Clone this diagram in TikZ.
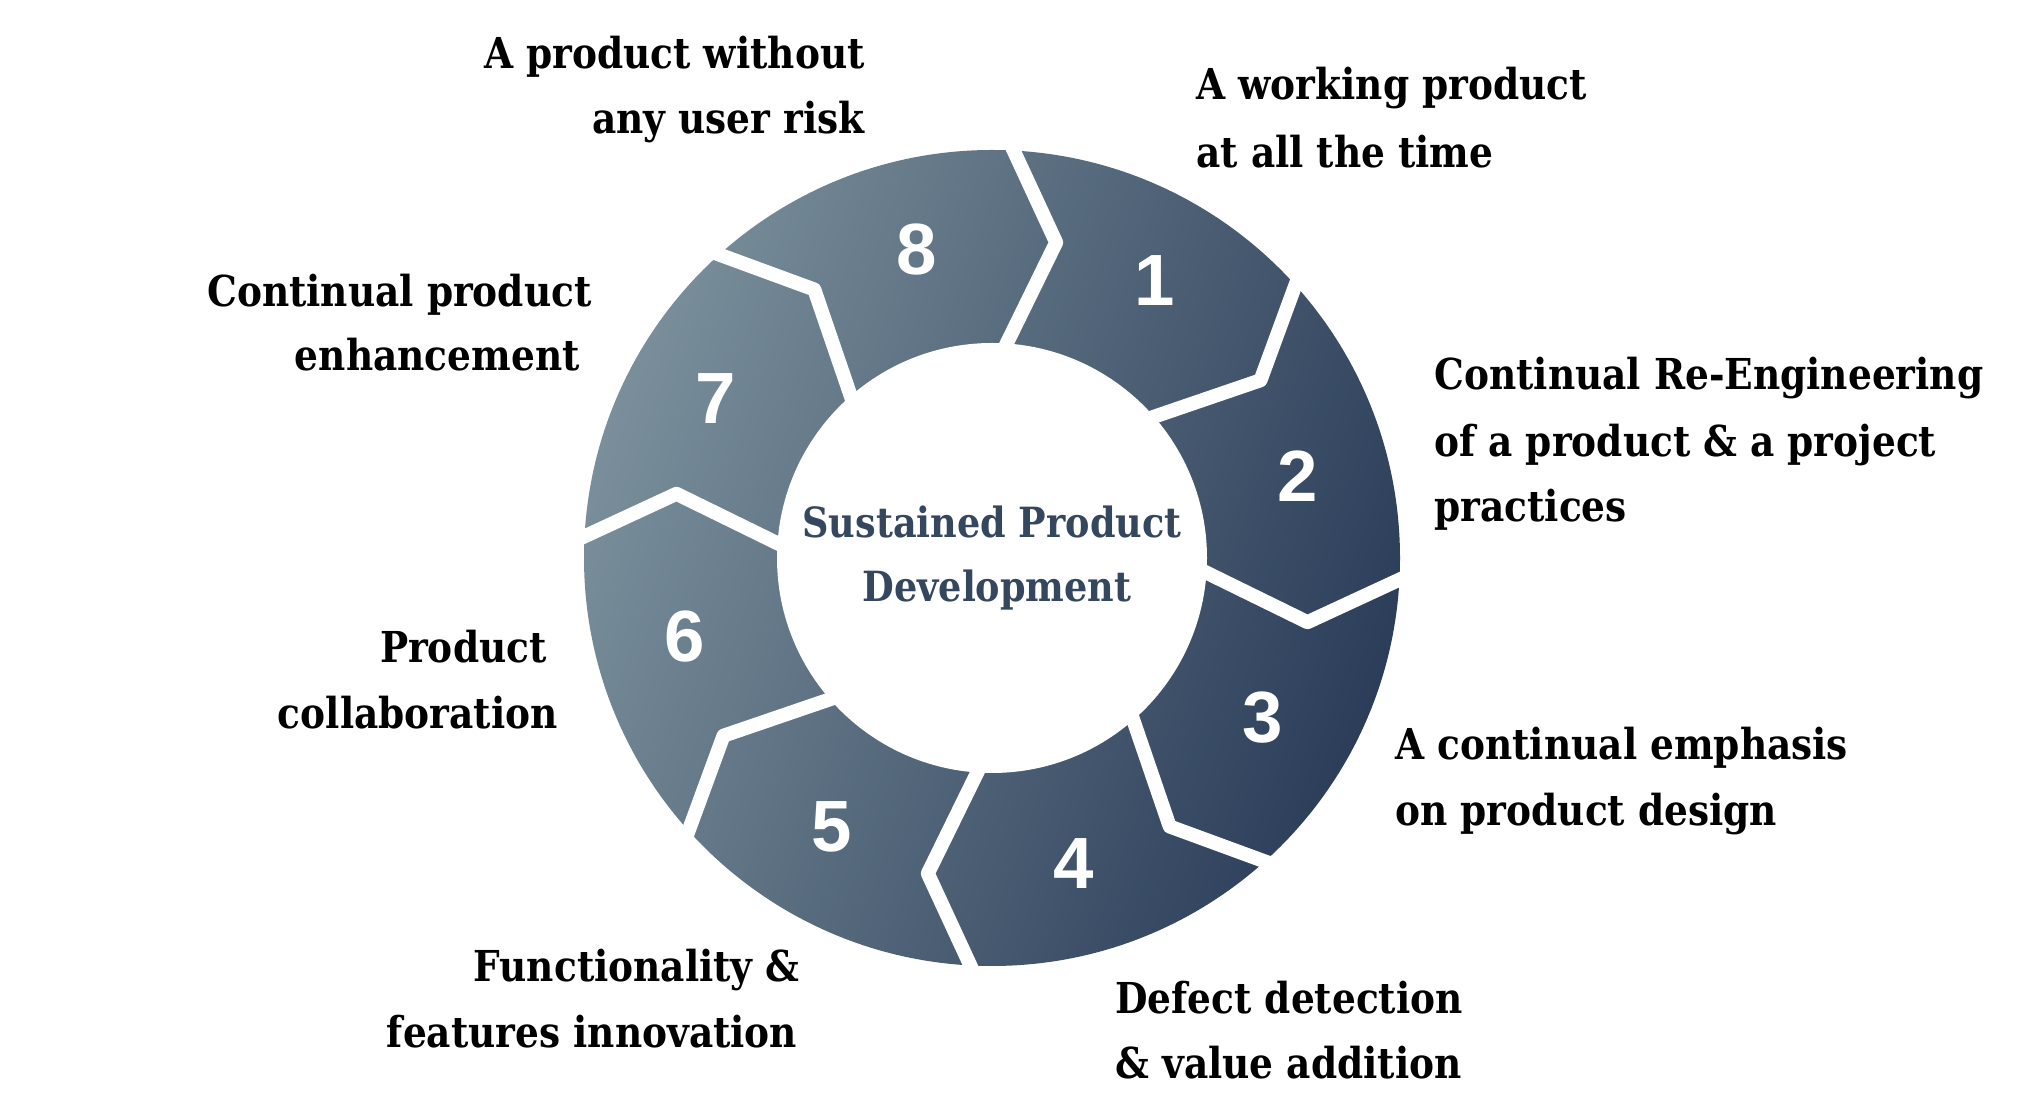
\documentclass[tikz,border=0pt]{standalone}
\usepackage{fontspec}
\setmainfont{DejaVu Serif}
\newfontfamily\labelfont[FakeStretch=0.88]{DejaVu Serif}
\newfontfamily\numfont{Liberation Sans}
\definecolor{segLight}{HTML}{7A8F9B}
\definecolor{segDark}{HTML}{2B3D59}
\definecolor{centreText}{HTML}{34475F}
\begin{document}
\begin{tikzpicture}[x=0.5pt,y=0.5pt,
  lbl/.style={inner sep=0pt, font=\labelfont\bfseries\fontsize{21.3}{25}\selectfont, text=black},
  num/.style={inner sep=0pt, font=\numfont\bfseries\fontsize{36.3}{40}\selectfont, text=white},
  ctr/.style={inner sep=0pt, font=\labelfont\bfseries\fontsize{20.8}{25}\selectfont, text=centreText},
  sepline/.style={draw=white, line width=7pt, line join=round}]
\useasboundingbox (0,0) rectangle (2024,1119);
\fill[white] (0,0) rectangle (2024,1119);
\coordinate (C) at (992,561);
\shade[top color=segLight, bottom color=segDark, shading angle=70] (C) circle[radius=204pt];
\fill[white] (C) circle[radius=107.5pt];
\begin{scope}[shift={(C)}]
\foreach \t in {88.5,43.5,-1.5,-46.5,-91.5,-136.5,-181.5,-226.5}
  \draw[sepline] (\t:430) -- (\t-10:322) -- (\t:195);
\end{scope}
% numbers
\node[num] (n1) at (1155,838) {1};
\node[num] (n2) at (1298,643) {2};
\node[num] (n3) at (1263,401) {3};
\node[num] (n4) at (1074,255.5) {4};
\node[num] (n5) at (832,292) {5};
\node[num] (n6) at (685,482) {6};
\node[num] (n7) at (716,720) {7};
\node[num] (n8) at (917,869) {8};
% centre
\node[ctr, anchor=base] (c1) at (992,581) {Sustained Product};
\node[ctr, anchor=base] (c2) at (997,517.5) {Development};
% labels
\node[lbl, anchor=base east] (l8a) at (865,1050) {A product without};
\node[lbl, anchor=base east] (l8b) at (865,985) {any user risk};
\node[lbl, anchor=base east] (l7a) at (592,812) {Continual product};
\node[lbl, anchor=base east] (l7b) at (580,748) {enhancement};
\node[lbl, anchor=base east] (l6a) at (547,456.5) {Product};
\node[lbl, anchor=base east] (l6b) at (558,390.5) {collaboration};
\node[lbl, anchor=base east] (l5a) at (800,137.5) {Functionality \&};
\node[lbl, anchor=base east] (l5b) at (797.6,71) {features innovation};
\node[lbl, anchor=base west] (l4a) at (1115,105) {Defect detection};
\node[lbl, anchor=base west] (l4b) at (1115,40) {\& value addition};
\node[lbl, anchor=base west] (l3a) at (1395,359) {A continual emphasis};
\node[lbl, anchor=base west] (l3b) at (1395,293) {on product design};
\node[lbl, anchor=base west] (l2a) at (1434,729) {Continual Re-Engineering};
\node[lbl, anchor=base west] (l2b) at (1434,662) {of a product \& a project};
\node[lbl, anchor=base west] (l2c) at (1434,597) {practices};
\node[lbl, anchor=base west] (l1a) at (1196,1019) {A working product};
\node[lbl, anchor=base west] (l1b) at (1196,951.4) {at all the time};
\end{tikzpicture}
\end{document}
